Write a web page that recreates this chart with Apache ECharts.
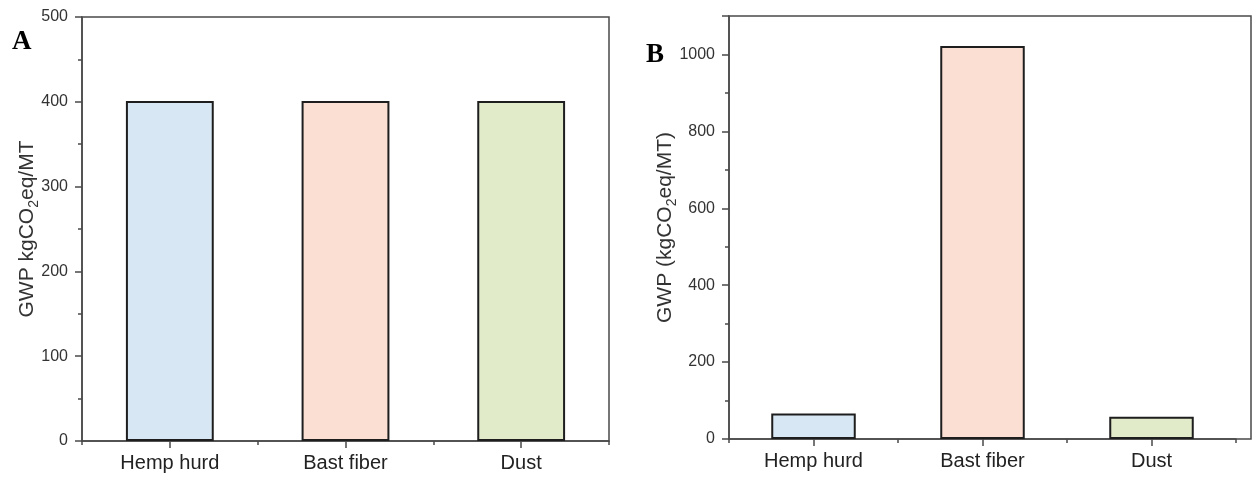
<!DOCTYPE html>
<html>
<head>
<meta charset="utf-8">
<script src="https://cdn.jsdelivr.net/npm/echarts@6/dist/echarts.min.js"></script>
<style>
  html, body { margin: 0; padding: 0; background: #fff; }
  #chart { width: 1252px; height: 479px; }
</style>
</head>
<body>
<div id="chart"></div>
<script>
// categories shared by both panels
const categories = ['Hemp hurd', 'Bast fiber', 'Dust']
// panel A: GWP kgCO2eq/MT
const gwpA = [401, 401, 401]
// panel B: GWP (kgCO2eq/MT)
const gwpB = [66, 1022, 58]
const barColors = ['#d7e8f4', '#fcdfd3', '#e1eac9']

const axisColor = '#4a4a4a'
const font = 'Liberation Sans, Arial, sans-serif'

// category axis with ticks at the centres and labels
function catAxis(gridIndex) {
  return {
    type: 'category',
    gridIndex: gridIndex,
    data: categories,
    axisLine: { show: true, lineStyle: { color: axisColor, width: 1.5 } },
    axisTick: { show: true, alignWithLabel: true, length: 7, lineStyle: { color: axisColor, width: 1.5 } },
    axisLabel: { color: '#222', fontSize: 20, fontFamily: font, margin: 12 },
    splitLine: { show: false }
  }
}

// same categories, only short ticks between them
function boundaryAxis(gridIndex) {
  return {
    type: 'category',
    gridIndex: gridIndex,
    data: categories,
    axisLine: { show: false },
    axisTick: { show: true, length: 4, lineStyle: { color: axisColor, width: 1.5 } },
    axisLabel: { show: false },
    splitLine: { show: false }
  }
}

function valAxis(gridIndex, max, interval, name, nameGap, showMax) {
  return {
    type: 'value',
    gridIndex: gridIndex,
    min: 0,
    max: max,
    interval: interval,
    name: name,
    nameLocation: 'middle',
    nameRotate: 90,
    nameGap: nameGap,
    nameMoveOverlap: false,
    nameTextStyle: {
      color: '#333',
      fontSize: 21,
      fontFamily: font,
      lineHeight: 28,
      rich: {
        sub: { fontSize: 14, fontFamily: font, color: '#333', verticalAlign: 'bottom', lineHeight: 12 }
      }
    },
    axisLine: { show: true, lineStyle: { color: axisColor, width: 1.5 } },
    axisTick: { show: true, length: 7, lineStyle: { color: axisColor, width: 1.5 } },
    minorTick: { show: true, splitNumber: 2, length: 4, lineStyle: { color: axisColor, width: 1.5 } },
    axisLabel: {
      color: '#333', fontSize: 16, fontFamily: font, margin: 14, showMaxLabel: showMax,
      formatter: (v) => String(v)
    },
    splitLine: { show: false }
  }
}

function hiddenAxis(gridIndex) {
  return { type: 'value', gridIndex: gridIndex, show: false }
}

function barSeries(xIndex, yIndex, values) {
  return {
    type: 'bar',
    xAxisIndex: xIndex,
    yAxisIndex: yIndex,
    barWidth: '50%',
    data: values.map((v, i) => ({
      value: v,
      itemStyle: { color: barColors[i], borderColor: '#1e1e1e', borderWidth: 2 }
    }))
  }
}

const gridA = { left: 82, right: 643, top: 17, bottom: 38 }
const gridB = { left: 729, right: 16, top: 16, bottom: 40 }

const chart = echarts.init(document.getElementById('chart'))

chart.setOption({
  animation: false,
  title: [
    { text: 'A', left: 7, top: 24, textStyle: { fontFamily: 'Liberation Serif, Times New Roman, serif', fontWeight: 'bold', fontSize: 27, color: '#000' } },
    { text: 'B', left: 641, top: 37, textStyle: { fontFamily: 'Liberation Serif, Times New Roman, serif', fontWeight: 'bold', fontSize: 27, color: '#000' } }
  ],
  grid: [
    { ...gridA, show: true, borderColor: axisColor, borderWidth: 1.5 },
    { ...gridA },
    { ...gridB },
    { ...gridB },
    // frame of panel B runs a little past the last category
    { left: 729, right: 1, top: 16, bottom: 40, show: true, borderColor: axisColor, borderWidth: 1.5 }
  ],
  xAxis: [
    catAxis(0),
    boundaryAxis(1),
    catAxis(2),
    boundaryAxis(3),
    hiddenAxis(4)
  ],
  yAxis: [
    valAxis(0, 500, 100, 'GWP kgCO{sub|2}eq/MT', 41, true),
    hiddenAxis(1),
    valAxis(2, 1100, 200, 'GWP (kgCO{sub|2}eq/MT)', 50, false),
    hiddenAxis(3),
    hiddenAxis(4)
  ],
  series: [
    barSeries(0, 0, gwpA),
    barSeries(2, 2, gwpB)
  ]
})
</script>
</body>
</html>
